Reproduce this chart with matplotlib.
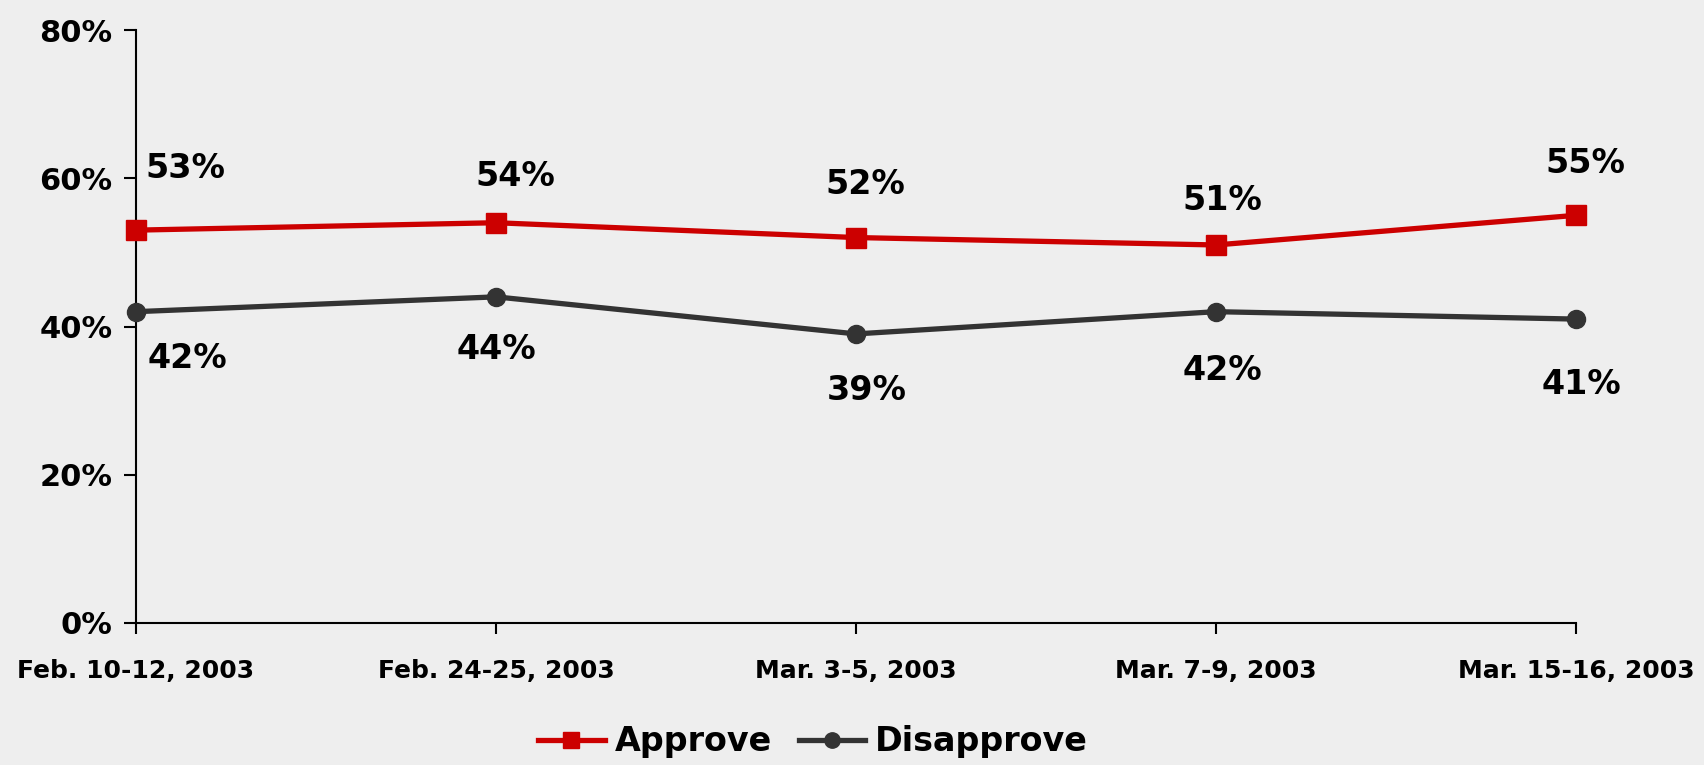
import matplotlib
matplotlib.use("Agg")
import matplotlib.pyplot as plt
from matplotlib.ticker import FuncFormatter

categories = ["Feb. 10-12, 2003", "Feb. 24-25, 2003", "Mar. 3-5, 2003", "Mar. 7-9, 2003", "Mar. 15-16, 2003"]
approve = [53, 54, 52, 51, 55]
disapprove = [42, 44, 39, 42, 41]
yticks = [0, 20, 40, 60, 80]

# label offsets in pixels (dx, dy)
approve_off = [(49, 62), (19, 46), (9, 53), (6, 44), (9, 52)]
disapprove_off = [(51, -47), (0, -53), (11, -57), (6, -59), (5, -65)]

bg = "#EEEEEE"
red = "#CC0000"
dark = "#333333"

plt.rcParams['font.family'] = ['DejaVu Sans']
fig = plt.figure(figsize=(17.04, 7.65), dpi=100, facecolor=bg)
ax = fig.add_axes([136/1704, 1-623/765, (1576-136)/1704, (623-30)/765])
ax.set_facecolor(bg)

x = list(range(len(categories)))
ax.plot(x, approve, color=red, lw=3.8, marker='s', ms=14, label="Approve", zorder=3, clip_on=False)
ax.plot(x, disapprove, color=dark, lw=3.8, marker='o', ms=13, label="Disapprove", zorder=3, clip_on=False)

for i, v in enumerate(approve):
    ax.annotate(f"{v}%", (i, v), xytext=approve_off[i], textcoords='offset pixels',
                ha='center', va='center', fontsize=24, fontweight='bold', color='black')
for i, v in enumerate(disapprove):
    ax.annotate(f"{v}%", (i, v), xytext=disapprove_off[i], textcoords='offset pixels',
                ha='center', va='center', fontsize=24, fontweight='bold', color='black')

ax.set_xlim(0, len(categories) - 1)
ax.set_ylim(0, 80)
ax.set_xticks(x)
ax.set_xticklabels(categories, fontsize=18, fontweight='bold')
ax.set_yticks(yticks)
ax.yaxis.set_major_formatter(FuncFormatter(lambda v, p: f"{int(v)}%"))
for lab in ax.get_yticklabels():
    lab.set_fontsize(22)
    lab.set_fontweight('bold')

for s in ['top', 'right']:
    ax.spines[s].set_visible(False)
for s in ['left', 'bottom']:
    ax.spines[s].set_linewidth(1.5)
    ax.spines[s].set_color('black')
ax.tick_params(axis='y', length=9, width=1.5, pad=8)
ax.tick_params(axis='x', length=8, width=1.5, pad=18)

fig.legend(loc='center', bbox_to_anchor=(813/1704, 1-742/765), ncol=2, frameon=False,
           prop={'size': 24, 'weight': 'bold'}, handlelength=2.0, handletextpad=0.3,
           columnspacing=0.8, borderpad=0, markerscale=0.85)

fig.savefig("out.png", dpi=100, facecolor=bg)
